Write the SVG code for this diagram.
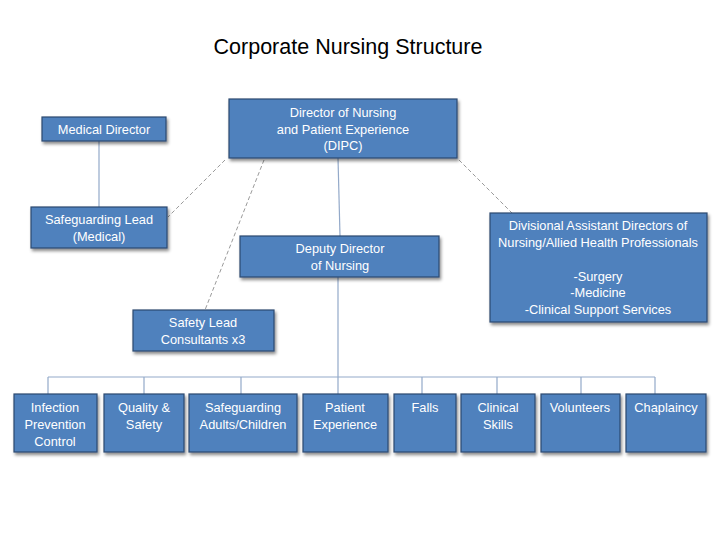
<svg xmlns="http://www.w3.org/2000/svg" width="720" height="540" viewBox="0 0 720 540">
<defs>
<filter id="sh" x="-10%" y="-10%" width="130%" height="140%">
<feDropShadow dx="1.5" dy="2.5" stdDeviation="1.5" flood-color="#000" flood-opacity="0.45"/>
</filter>
</defs>
<style>
.box{fill:#4F81BD;stroke:#2C4A70;stroke-width:1.2;filter:url(#sh)}
.t{font-family:"Liberation Sans",Arial,sans-serif;font-size:12.8px;fill:#fff;text-anchor:middle;dominant-baseline:central}
.title{font-family:"Liberation Sans",Arial,sans-serif;font-size:21.5px;fill:#000;text-anchor:middle}
.solid{stroke:#93A9C9;stroke-width:1.2;fill:none}
.dash{stroke:#9A9A9A;stroke-width:1;stroke-dasharray:4,2.5;fill:none}
</style>
<rect width="720" height="540" fill="#fff"/>
<text class="title" x="348" y="54">Corporate Nursing Structure</text>
<g id="connectors">
<line class="solid" x1="99" y1="141" x2="99" y2="207"/>
<line class="dash" x1="225" y1="160" x2="168" y2="217"/>
<line class="dash" x1="264" y1="160" x2="205" y2="310"/>
<line class="dash" x1="459" y1="160" x2="512" y2="213"/>
<line class="solid" x1="338" y1="158" x2="340" y2="236"/>
<line class="solid" x1="338" y1="277" x2="338" y2="377"/>
<line class="solid" x1="48" y1="377" x2="655" y2="377"/>
<line class="solid" x1="48" y1="377" x2="48" y2="394"/>
<line class="solid" x1="144" y1="377" x2="144" y2="394"/>
<line class="solid" x1="241" y1="377" x2="241" y2="394"/>
<line class="solid" x1="338" y1="377" x2="338" y2="394"/>
<line class="solid" x1="422" y1="377" x2="422" y2="394"/>
<line class="solid" x1="497" y1="377" x2="497" y2="394"/>
<line class="solid" x1="581" y1="377" x2="581" y2="394"/>
<line class="solid" x1="655" y1="377" x2="655" y2="394"/>
</g>
<g id="dipc"><rect class="box" x="229" y="99" width="228" height="59"/>
<text class="t" x="343" y="112">Director of Nursing</text><text class="t" x="343" y="129">and Patient Experience</text><text class="t" x="343" y="145">(DIPC)</text></g>
<g id="medical-director"><rect class="box" x="42" y="117" width="124" height="24"/>
<text class="t" x="104" y="129">Medical Director</text></g>
<g id="safeguarding-lead"><rect class="box" x="31" y="207" width="136" height="41"/>
<text class="t" x="99" y="219">Safeguarding Lead</text><text class="t" x="99" y="236">(Medical)</text></g>
<g id="deputy-director"><rect class="box" x="240" y="236" width="199" height="41"/>
<text class="t" x="340" y="248">Deputy Director</text><text class="t" x="340" y="265">of Nursing</text></g>
<g id="divisional"><rect class="box" x="490" y="213" width="217" height="109"/>
<text class="t" x="598" y="225">Divisional Assistant Directors of</text><text class="t" x="598" y="242">Nursing/Allied Health Professionals</text>
<text class="t" x="598" y="276">-Surgery</text><text class="t" x="598" y="292">-Medicine</text><text class="t" x="598" y="309">-Clinical Support Services</text></g>
<g id="safety-lead"><rect class="box" x="133" y="310" width="141" height="41"/>
<text class="t" x="203" y="322">Safety Lead</text><text class="t" x="203" y="339">Consultants x3</text></g>
<g id="infection"><rect class="box" x="14" y="394" width="83" height="58"/>
<text class="t" x="55" y="407">Infection</text><text class="t" x="55" y="424">Prevention</text><text class="t" x="55" y="441">Control</text></g>
<g id="quality"><rect class="box" x="104" y="394" width="80" height="58"/>
<text class="t" x="144" y="407">Quality &amp;</text><text class="t" x="144" y="424">Safety</text></g>
<g id="safeguarding"><rect class="box" x="189" y="394" width="108" height="58"/>
<text class="t" x="243" y="407">Safeguarding</text><text class="t" x="243" y="424">Adults/Children</text></g>
<g id="patient"><rect class="box" x="303" y="394" width="85" height="58"/>
<text class="t" x="345" y="407">Patient</text><text class="t" x="345" y="424">Experience</text></g>
<g id="falls"><rect class="box" x="394" y="394" width="62" height="58"/>
<text class="t" x="425" y="407">Falls</text></g>
<g id="clinical"><rect class="box" x="461" y="394" width="74" height="58"/>
<text class="t" x="498" y="407">Clinical</text><text class="t" x="498" y="424">Skills</text></g>
<g id="volunteers"><rect class="box" x="541" y="394" width="79" height="58"/>
<text class="t" x="580" y="407">Volunteers</text></g>
<g id="chaplaincy"><rect class="box" x="626" y="394" width="80" height="58"/>
<text class="t" x="666" y="407">Chaplaincy</text></g>
</svg>
